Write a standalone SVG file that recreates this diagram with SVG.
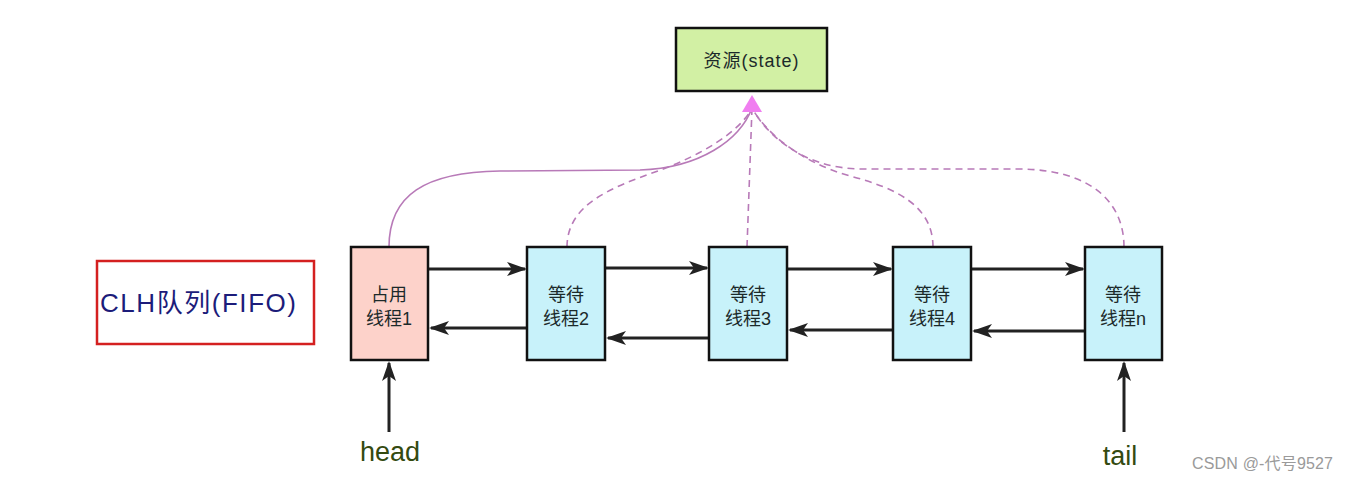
<svg xmlns="http://www.w3.org/2000/svg" width="1349" height="481" viewBox="0 0 1349 481">
<style>
.node{stroke:#111;stroke-width:2.5}
.t{font-family:"Liberation Sans","Noto Sans CJK SC",sans-serif;font-size:18px;fill:#1c2a2a;text-anchor:middle}
.link{stroke:#222;stroke-width:3;fill:none}
.cur{stroke:#b87ab8;stroke-width:1.6;fill:none}
.dash{stroke-dasharray:7,5}
</style>
<defs>
<marker id="ah" markerWidth="20" markerHeight="14" refX="18" refY="7" orient="auto" markerUnits="userSpaceOnUse">
<path d="M0,0 L20,7 L0,14 L5,7 Z" fill="#222"/>
</marker>
</defs>
<rect width="1349" height="481" fill="#fff"/>
<g id="connectors">
<path class="cur" d="M389,247 C389,195 425,172 500,171 L640,170 C700,168 740,140 752,108"/>
<path class="cur dash" d="M567,247 C567,205 610,188 655,172 C700,156 740,132 752,108"/>
<path class="cur dash" d="M747,247 L752,108"/>
<path class="cur dash" d="M933,247 C933,205 895,188 850,176 C800,162 765,132 752,108"/>
<path class="cur dash" d="M1124,247 C1124,205 1095,170 1020,169 L860,169 C800,168 765,132 752,108"/>
<path d="M752,95 L762,112 L742,112 Z" fill="#f07ef0"/>
<line class="link" x1="429" y1="269" x2="525" y2="269" marker-end="url(#ah)"/>
<line class="link" x1="606" y1="268" x2="707" y2="268" marker-end="url(#ah)"/>
<line class="link" x1="788" y1="269" x2="891" y2="269" marker-end="url(#ah)"/>
<line class="link" x1="972" y1="269" x2="1083" y2="269" marker-end="url(#ah)"/>
<line class="link" x1="527" y1="328" x2="431" y2="328" marker-end="url(#ah)"/>
<line class="link" x1="709" y1="338" x2="608" y2="338" marker-end="url(#ah)"/>
<line class="link" x1="893" y1="330" x2="790" y2="330" marker-end="url(#ah)"/>
<line class="link" x1="1085" y1="331" x2="974" y2="331" marker-end="url(#ah)"/>
<line class="link" x1="389" y1="432" x2="389" y2="363" marker-end="url(#ah)"/>
<line class="link" x1="1124" y1="432" x2="1124" y2="363" marker-end="url(#ah)"/>
</g>
<g id="resource">
<rect class="node" x="676" y="28" width="151" height="63" fill="#d2f0a4"/>
<text class="t" x="751" y="67" font-size="19" textLength="95">资源(state)</text>
</g>
<g id="clh">
<rect x="97" y="261" width="217" height="83" fill="#fff" stroke="#d42020" stroke-width="2.5"/>
<text x="100" y="312" font-family="Liberation Sans,'Noto Sans CJK SC',sans-serif" font-size="26" fill="#1c1c7a" textLength="196">CLH队列(FIFO)</text>
</g>
<g id="n1">
<rect class="node" x="351" y="247" width="77" height="113" fill="#fdd2ca"/>
<text class="t" x="389" y="301">占用</text>
<text class="t" x="389" y="325">线程1</text>
</g>
<g id="n2">
<rect class="node" x="527" y="247" width="78" height="113" fill="#c8f2fa"/>
<text class="t" x="566" y="301">等待</text>
<text class="t" x="566" y="325">线程2</text>
</g>
<g id="n3">
<rect class="node" x="709" y="247" width="78" height="113" fill="#c8f2fa"/>
<text class="t" x="748" y="301">等待</text>
<text class="t" x="748" y="325">线程3</text>
</g>
<g id="n4">
<rect class="node" x="893" y="247" width="78" height="113" fill="#c8f2fa"/>
<text class="t" x="932" y="301">等待</text>
<text class="t" x="932" y="325">线程4</text>
</g>
<g id="n5">
<rect class="node" x="1085" y="247" width="77" height="113" fill="#c8f2fa"/>
<text class="t" x="1123" y="301">等待</text>
<text class="t" x="1123" y="325">线程n</text>
</g>
<g id="head">
<text x="390" y="461" font-family="Liberation Sans,sans-serif" font-size="27" fill="#344a10" text-anchor="middle">head</text>
</g>
<g id="tail">
<text x="1120" y="465" font-family="Liberation Sans,sans-serif" font-size="27" fill="#344a10" text-anchor="middle">tail</text>
</g>
<text x="1192" y="469" font-family="Liberation Sans,'Noto Sans CJK SC',sans-serif" font-size="16" fill="#9a9a9a" textLength="141">CSDN @-代号9527</text>
</svg>
